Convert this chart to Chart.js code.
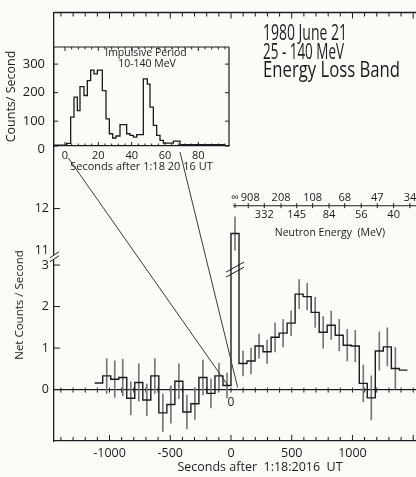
<!DOCTYPE html>
<html>
<head>
<meta charset="utf-8">
<script src="https://cdn.jsdelivr.net/npm/chart.js@4.4.0/dist/chart.umd.min.js"></script>
<style>
  html, body { margin: 0; padding: 0; background: #fbfbf8; }
  #wrap { position: relative; width: 416px; height: 477px; overflow: hidden; }
  #main, #inset { position: absolute; left: 0; top: 0; }
</style>
</head>
<body>
<div id="wrap">
  <canvas id="main" width="416" height="477" style="width:416px;height:477px"></canvas>
  <canvas id="inset" width="240" height="180" style="width:240px;height:180px"></canvas>
</div>
<script>
// main histogram: 66 s bins, seconds after 1:18:20.16 UT
var binStart = [-1122, -1056, -990, -924, -858, -792, -726, -660, -594, -528, -462, -396, -330, -264, -198, -132, -66,
  0, 66, 132, 198, 264, 330, 396, 462, 528, 594, 660, 726, 792, 858, 924, 990, 1056, 1122, 1188, 1254, 1320, 1386];
var binEnd = 1452;
var netRate = [0.16, 0.33, 0.25, 0.29, -0.21, 0.17, -0.25, 0.33, -0.56, -0.36, 0.2, -0.54, -0.34, 0.29, -0.09, 0.33, 0.1,
  11.4, 0.63, 0.69, 1.05, 0.91, 1.26, 1.36, 1.6, 2.3, 2.24, 1.86, 1.38, 1.55, 1.31, 1.07, 1.05, 0.15, -0.2, 0.93, 1.03, 0.51, 0.47];
var netErr = [null, 0.42, 0.44, 0.44, 0.4, 0.45, 0.38, 0.42, 0.45, 0.45, 0.42, 0.4, 0.38, 0.42, 0.35, 0.3, 0.3,
  0.4, 0.3, 0.31, 0.29, 0.28, 0.35, 0.33, 0.3, 0.35, 0.32, 0.36, 0.38, 0.34, 0.38, 0.38, 0.38, 0.44, 0.53, 0.46, 0.46, 0.5, null];

var xTickValues = [-1000, -500, 0, 500, 1000];
var yTickValues = [0, 1, 2, 3, 11, 12];

// neutron energy scale drawn across the main panel
var neutronTime = [33, 142, 274, 412, 541, 672, 807, 936, 1072, 1204, 1339, 1473];
var neutronLabel = ['\u221e', '908', '332', '208', '145', '108', '84', '68', '56', '47', '40', '34'];
var neutronAbove = [true, true, false, true, false, true, false, true, false, true, false, true];

// inset: impulsive period, 10-140 MeV
var insetStart = [-6.6, 1.0, 3.4, 5.4, 7.4, 9.0, 11.4, 13.4, 15.4, 17.4, 19.4, 22.4, 24.6, 26.6, 28.6, 30.6, 33.0,
  37.0, 39.0, 41.0, 43.0, 47.0, 49.4, 51.0, 53.0, 55.0, 57.0, 59.0, 65.0, 69.0];
var insetEnd = 96;
var insetRate = [16, 22, 114, 184, 137, 221, 190, 242, 279, 266, 279, 207, 108, 56, 41, 48, 88,
  56, 50, 44, 53, 248, 230, 149, 85, 50, 33, 23, 30, 18];
var insetXTicks = [0, 20, 40, 60, 80];
var insetYTicks = [0, 100, 200, 300];

var FONT = "'Open Sans', 'DejaVu Sans', sans-serif";
var INK = '#1c1c1c';

// axis break: values above 10 are shifted down onto the panel
function yPlot(v) { return v >= 10 ? v - 7.64 : v; }

var histPoints = binStart.map(function(t, i) { return { x: t, y: yPlot(netRate[i]) }; });
histPoints.push({ x: binEnd, y: yPlot(netRate[netRate.length - 1]) });

var errPoints = [];
binStart.forEach(function(t, i) {
  if (netErr[i] == null) return;
  var c = t + (i + 1 < binStart.length ? binStart[i + 1] - t : binEnd - t) / 2;
  errPoints.push({ x: c, y: [yPlot(netRate[i] - netErr[i]), yPlot(netRate[i] + netErr[i])] });
});

var insetPoints = insetStart.map(function(t, i) { return { x: t, y: insetRate[i] }; });
insetPoints.push({ x: insetEnd, y: insetRate[insetRate.length - 1] });

function line(ctx, x1, y1, x2, y2) {
  ctx.beginPath(); ctx.moveTo(x1, y1); ctx.lineTo(x2, y2); ctx.stroke();
}

function label(ctx, s, x, y, size, align, maxW) {
  ctx.save();
  ctx.font = size + 'px ' + FONT;
  ctx.fillStyle = INK;
  ctx.textAlign = align || 'center';
  ctx.textBaseline = 'middle';
  if (maxW) ctx.fillText(s, x, y, maxW); else ctx.fillText(s, x, y);
  ctx.restore();
}

var insetDecor = {
  id: 'insetDecor',
  afterDraw: function(chart) {
    var ctx = chart.ctx, a = chart.chartArea, xs = chart.scales.x, ys = chart.scales.y;
    ctx.save();
    ctx.strokeStyle = INK;
    ctx.lineWidth = 1.2;
    line(ctx, a.left, a.top, a.right, a.top);
    line(ctx, a.right, a.top, a.right, a.bottom);
    ctx.lineWidth = 1;
    for (var t = 0; t <= 96; t += 4) {
      var px = xs.getPixelForValue(t);
      var len = t % 20 === 0 ? 4 : 2.5;
      line(ctx, px, a.bottom, px, a.bottom - len);
      line(ctx, px, a.top, px, a.top + len);
    }
    insetYTicks.forEach(function(v) {
      var py = Math.min(ys.getPixelForValue(v), a.bottom);
      line(ctx, a.left, py, a.left + 4, py);
      line(ctx, a.right, py, a.right - 4, py);
    });
    ctx.restore();
    label(ctx, 'Impulsive Period', 146, 53, 10.5);
    label(ctx, '10-140 MeV', 147, 64.5, 10.5);
  }
};

var insetChart = new Chart(document.getElementById('inset'), {
  type: 'line',
  data: {
    datasets: [{
      data: insetPoints, stepped: 'before', borderColor: INK, borderWidth: 1.3,
      pointRadius: 0, fill: false
    }]
  },
  options: {
    responsive: false, animation: false,
    layout: { padding: { top: 47, right: 11, left: 0, bottom: 0 } },
    plugins: { legend: { display: false }, tooltip: { enabled: false } },
    scales: {
      x: {
        type: 'linear', min: -6.6, max: 98.4, offset: false,
        grid: { display: false, drawTicks: false },
        border: { display: true, color: INK, width: 1.2 },
        afterBuildTicks: function(s) { s.ticks = insetXTicks.map(function(v) { return { value: v }; }); },
        ticks: { font: { family: FONT, size: 11 }, color: INK, padding: 3, maxRotation: 0, autoSkip: false,
          callback: function(v) { return String(v); } },
        title: { display: true, text: 'Seconds after 1:18 20 16 UT', color: INK,
          font: { family: FONT, size: 11 }, padding: { top: 0, bottom: 7 } },
        afterFit: function(s) { s.height = 34; }
      },
      y: {
        min: 13, max: 360,
        grid: { display: false, drawTicks: false },
        border: { display: true, color: INK, width: 1.2 },
        afterBuildTicks: function(s) { s.ticks = insetYTicks.map(function(v) { return { value: v }; }); },
        ticks: { font: { family: FONT, size: 13 }, color: INK, padding: 9, autoSkip: false,
          callback: function(v) { return String(v); } },
        title: { display: true, text: 'Counts/ Second', color: INK,
          font: { family: FONT, size: 12.5 }, padding: { top: 4, bottom: 4 } },
        afterFit: function(s) { s.width = 54; }
      }
    }
  },
  plugins: [insetDecor]
});

var mainDecor = {
  id: 'mainDecor',
  beforeDatasetsDraw: function(chart) {
    var ctx = chart.ctx, a = chart.chartArea, xs = chart.scales.x, ys = chart.scales.y;
    var y0 = ys.getPixelForValue(0);
    ctx.save();
    ctx.strokeStyle = INK;
    ctx.lineWidth = 1.3;
    line(ctx, a.left, y0, a.right, y0);
    ctx.lineWidth = 1;
    for (var t = -1400; t <= 1500; t += 100) {
      var px = xs.getPixelForValue(t);
      line(ctx, px, y0 - 2, px, y0 + 3);
    }
    ctx.restore();
  },
  afterDraw: function(chart) {
    var ctx = chart.ctx, a = chart.chartArea, xs = chart.scales.x, ys = chart.scales.y;
    ctx.save();
    ctx.strokeStyle = INK;
    ctx.lineWidth = 1.3;
    // top frame
    line(ctx, a.left, a.top, a.right, a.top);
    ctx.lineWidth = 1;
    for (var t = -1400; t <= 1500; t += 100) {
      var px = xs.getPixelForValue(t);
      var len = t % 500 === 0 ? 6 : 4;
      line(ctx, px, a.top, px, a.top + len);
      line(ctx, px, a.bottom, px, a.bottom - len);
    }
    yTickValues.forEach(function(v) {
      if (v === 11) return;
      var py = ys.getPixelForValue(yPlot(v));
      line(ctx, a.left, py, a.left + 6, py);
    });

    // break marks on the y axis
    var yb = ys.getPixelForValue(3.2);
    ctx.fillStyle = '#fbfbf8';
    ctx.fillRect(a.left - 2, yb - 2, 4, 5);
    line(ctx, a.left - 4, yb + 1, a.left + 5, yb - 5);
    line(ctx, a.left - 4, yb + 5, a.left + 5, yb - 1);

    // break marks on the tall bar
    var bi = binStart.indexOf(0);
    var bx0 = xs.getPixelForValue(binStart[bi]), bx1 = xs.getPixelForValue(binStart[bi + 1]);
    var yt = ys.getPixelForValue(2.95);
    line(ctx, bx0 - 5, yt + 5, bx1 + 5, yt - 5);
    line(ctx, bx0 - 5, yt + 10, bx1 + 5, yt);

    // neutron energy scale
    var ny = ys.getPixelForValue(4.43);
    ctx.lineWidth = 1.1;
    line(ctx, xs.getPixelForValue(neutronTime[0]) - 2, ny, a.right, ny);
    ctx.lineWidth = 1;
    neutronTime.forEach(function(t, i) {
      var px = xs.getPixelForValue(t);
      line(ctx, px, ny - 2.5, px, ny + 2.5);
      label(ctx, neutronLabel[i], px + (i === 1 ? 2 : 0), neutronAbove[i] ? ny - 8 : ny + 9, 11);
    });
    label(ctx, 'Neutron Energy  (MeV)', 330, ny + 27, 10.5);

    // links from the inset to the main time axis
    var ix = insetChart.scales.x, ia = insetChart.chartArea;
    ctx.strokeStyle = '#3a3a3a';
    ctx.lineWidth = 1;
    line(ctx, ix.getPixelForValue(2), ia.bottom + 12, xs.getPixelForValue(-20), ys.getPixelForValue(0.08));
    line(ctx, ix.getPixelForValue(69), ia.bottom + 6, xs.getPixelForValue(55), ys.getPixelForValue(0.05));
    ctx.restore();

    label(ctx, '0', xs.getPixelForValue(0), ys.getPixelForValue(0) + 13, 12);

    label(ctx, '1980 June 21', 263, 34, 21, 'left', 84);
    label(ctx, '25 - 140 MeV', 263, 53, 21, 'left', 81);
    label(ctx, 'Energy Loss Band', 263, 71.5, 21, 'left', 137);

    ctx.save();
    ctx.translate(20, 305);
    ctx.rotate(-Math.PI / 2);
    label(ctx, 'Net Counts / Second', 0, 0, 11.5);
    ctx.restore();
    label(ctx, 'Seconds after  1:18:2016  UT', 260, 467, 12.5);
  }
};

var mainChart = new Chart(document.getElementById('main'), {
  type: 'line',
  data: {
    datasets: [
      {
        type: 'line', data: histPoints, stepped: 'before', borderColor: INK, borderWidth: 1.4,
        pointRadius: 0, fill: false, order: 1
      },
      {
        type: 'bar', data: errPoints, backgroundColor: '#777777', borderWidth: 0,
        barThickness: 1, order: 2
      }
    ]
  },
  options: {
    responsive: false, animation: false,
    layout: { padding: { top: 7.5, right: 0, left: 0, bottom: 0 } },
    plugins: { legend: { display: false }, tooltip: { enabled: false } },
    scales: {
      x: {
        type: 'linear', min: -1457, max: 1523, offset: false,
        grid: { display: false, drawTicks: false },
        border: { display: true, color: INK, width: 1.3 },
        afterBuildTicks: function(s) { s.ticks = xTickValues.map(function(v) { return { value: v }; }); },
        ticks: { font: { family: FONT, size: 12.5 }, color: INK, padding: 5, maxRotation: 0, autoSkip: false,
          callback: function(v) { return String(v); } },
        afterFit: function(s) { s.height = 36; }
      },
      y: {
        type: 'linear', min: -1.238, max: 9.083,
        grid: { display: false, drawTicks: false },
        border: { display: true, color: INK, width: 1.3 },
        afterBuildTicks: function(s) { s.ticks = yTickValues.map(function(v) { return { value: yPlot(v) }; }); },
        ticks: { font: { family: FONT, size: 12.5 }, color: INK, padding: 5, autoSkip: false,
          callback: function(v, i) { return String(yTickValues[i]); } },
        afterFit: function(s) { s.width = 54; }
      }
    }
  },
  plugins: [mainDecor]
});
</script>
</body>
</html>
